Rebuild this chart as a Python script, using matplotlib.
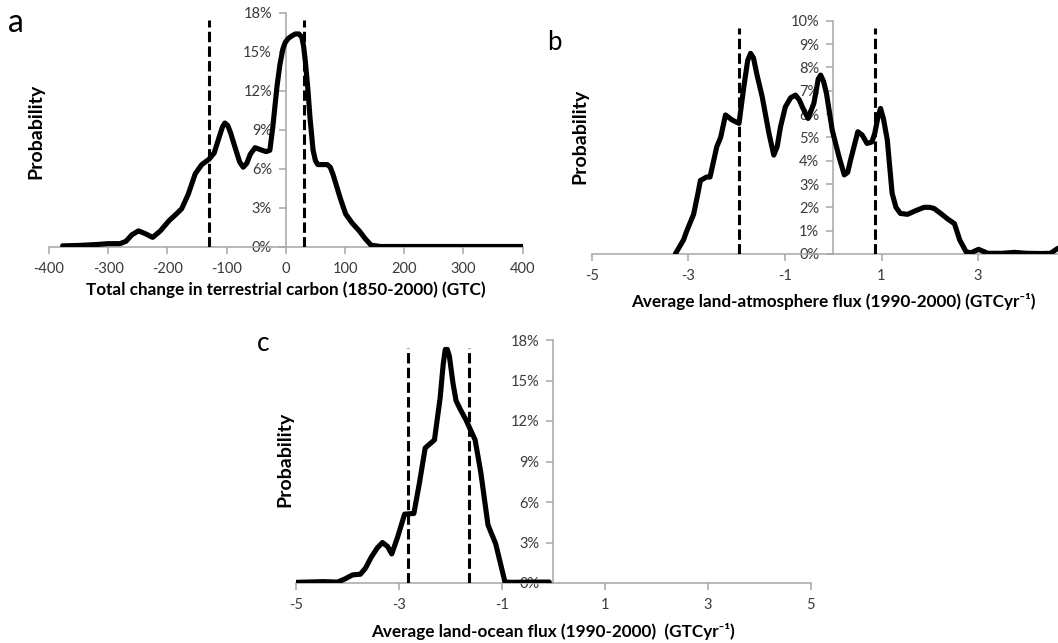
import matplotlib
matplotlib.use("Agg")
import matplotlib.pyplot as plt
from matplotlib.ticker import FixedLocator, FixedFormatter

plt.rcParams['font.family'] = ['Lato', 'DejaVu Sans']
plt.rcParams['axes.unicode_minus'] = False

# ---------------- data ----------------
# Panel a: total change in terrestrial carbon (GTC) vs probability (%)
a_x = [-377, -350, -320, -300, -280, -270, -260, -249, -238, -225, -212, -197, -185,
       -176, -165, -153, -142, -130, -121, -112, -107, -103, -98, -93, -87, -78, -72, -66,
       -60, -52, -40, -33, -27, -22, -15, -10, -5, -1, 4, 10, 16, 22, 27, 30, 33, 37, 41,
       46, 50, 54, 62, 70, 75, 80, 86, 92, 101, 112, 124, 134, 144, 160, 250, 400]
a_y = [0.05, 0.08, 0.15, 0.22, 0.22, 0.4, 0.9, 1.2, 1.0, 0.7, 1.2, 2.0, 2.5,
       2.9, 4.0, 5.6, 6.3, 6.7, 7.2, 8.5, 9.2, 9.5, 9.3, 8.7, 7.8, 6.5, 6.1, 6.4,
       7.1, 7.6, 7.4, 7.3, 7.4, 9.2, 12.3, 14.0, 15.2, 15.7, 16.0, 16.2, 16.35, 16.35, 16.1, 15.4, 14.2, 12.2, 9.8,
       7.4, 6.6, 6.3, 6.3, 6.3, 6.1, 5.5, 4.6, 3.7, 2.5, 1.8, 1.2, 0.6, 0.1, 0.0, 0.0, 0.0]
a_dashed = [-130, 30]
a_dash_top = 17.4
a_xticks = [-400, -300, -200, -100, 0, 100, 200, 300, 400]
a_xticklabels = ['-400', '-300', '-200', '-100', '0', '100', '200', '300', '400']
a_yticks = [0, 3, 6, 9, 12, 15, 18]
a_yticklabels = ['0%', '3%', '6%', '9%', '12%', '15%', '18%']

# Panel b: average land-atmosphere flux (GTC/yr) vs probability (%)
b_x = [-3.27, -3.10, -3.03, -2.89, -2.80, -2.75, -2.62, -2.55, -2.41, -2.33, -2.23, -2.09, -1.95,
       -1.85, -1.77, -1.71, -1.65, -1.58, -1.47, -1.33, -1.23, -1.16, -1.09, -0.99, -0.88, -0.78, -0.70,
       -0.64, -0.52, -0.40, -0.31, -0.26, -0.20, -0.14, -0.02, 0.12, 0.23, 0.30, 0.36, 0.51, 0.60,
       0.70, 0.80, 0.86, 0.93, 0.98, 1.04, 1.12, 1.22, 1.30, 1.39, 1.54, 1.70, 1.88, 2.00, 2.09,
       2.25, 2.37, 2.51, 2.62, 2.75, 2.85, 3.01, 3.20, 3.50, 3.75, 4.0, 4.3, 4.50, 4.62, 4.75]
b_y = [0.0, 0.6, 1.0, 1.7, 2.6, 3.15, 3.3, 3.3, 4.6, 5.0, 5.96, 5.74, 5.6,
       7.17, 8.3, 8.6, 8.4, 7.7, 6.74, 5.17, 4.24, 4.6, 5.46, 6.31, 6.7, 6.81, 6.6,
       6.31, 5.81, 6.46, 7.5, 7.67, 7.4, 6.89, 5.31, 4.17, 3.39, 3.5, 4.03, 5.24, 5.1,
       4.74, 4.8, 5.17, 5.9, 6.24, 5.8, 4.89, 2.6, 2.0, 1.74, 1.7, 1.85, 2.0, 2.0, 1.95,
       1.7, 1.5, 1.3, 0.6, 0.1, 0.05, 0.2, 0.03, 0.03, 0.07, 0.03, 0.02, 0.03, 0.2, 0.35]
b_dashed = [-1.94, 0.865]
b_dash_top = 9.67
b_xticks = [-5, -3, -1, 1, 3]
b_xticklabels = ['-5', '-3', '-1', '1', '3']
b_yticks = [0, 1, 2, 3, 4, 5, 6, 7, 8, 9, 10]
b_yticklabels = ['0%', '1%', '2%', '3%', '4%', '5%', '6%', '7%', '8%', '9%', '10%']

# Panel c: average land-ocean flux (GTC/yr) vs probability (%)
c_x = [-5.0, -4.47, -4.19, -4.05, -3.90, -3.75, -3.65, -3.54, -3.42, -3.32, -3.22, -3.14,
       -3.03, -2.89, -2.71, -2.60, -2.49, -2.31, -2.20, -2.14, -2.10, -2.06, -2.02, -1.95, -1.89,
       -1.80, -1.70, -1.52, -1.41, -1.27, -1.12, -0.94, -0.80, -0.40, -0.08]
c_y = [0.05, 0.1, 0.07, 0.3, 0.6, 0.65, 1.1, 1.9, 2.6, 3.0, 2.7, 2.15,
       3.35, 5.1, 5.15, 7.45, 10.0, 10.6, 13.7, 16.2, 17.3, 17.3, 16.8, 14.8, 13.5,
       12.8, 12.1, 10.6, 8.2, 4.3, 2.9, 0.07, 0.05, 0.07, 0.07]
c_dashed = [-2.82, -1.63]
c_dash_top = 17.4
c_xticks = [-5, -3, -1, 1, 3, 5]
c_xticklabels = ['-5', '-3', '-1', '1', '3', '5']
c_yticks = [0, 3, 6, 9, 12, 15, 18]
c_yticklabels = ['0%', '3%', '6%', '9%', '12%', '15%', '18%']

# ---------------- drawing ----------------
W, H = 1058, 643
fig = plt.figure(figsize=(W / 100, H / 100), dpi=100)

AXIS_GRAY = '#A6A6A6'
TICK_TEXT = '#3A3A3A'


def make_panel(rect, x, y, dashed, dash_top, xticks, xtl, yticks, ytl, xlim, ylim):
    ax = fig.add_axes(rect)
    ax.set_xlim(*xlim)
    ax.set_ylim(*ylim)
    for s in ['top', 'right']:
        ax.spines[s].set_visible(False)
    ax.spines['left'].set_position(('data', 0))
    for s in ['left', 'bottom']:
        ax.spines[s].set_color(AXIS_GRAY)
        ax.spines[s].set_linewidth(1.1)
    ax.xaxis.set_major_locator(FixedLocator(xticks))
    ax.xaxis.set_major_formatter(FixedFormatter(xtl))
    ax.yaxis.set_major_locator(FixedLocator(yticks))
    ax.yaxis.set_major_formatter(FixedFormatter(ytl))
    ax.tick_params(axis='both', direction='out', length=5, width=1.1,
                   color=AXIS_GRAY, labelcolor=TICK_TEXT, labelsize=10.5)
    ax.tick_params(axis='x', pad=6)
    ax.tick_params(axis='y', pad=5)
    ax.patch.set_alpha(0)
    ax.vlines(dashed, 0, dash_top, colors='black', linewidth=2.2,
              linestyles=(0, (3.4, 1.4)), zorder=3)
    ax.plot(x, y, color='black', linewidth=3.7, solid_joinstyle='round',
            solid_capstyle='round', zorder=4)
    return ax


def fr(px_left, px_right, px_top, px_bottom):
    return [px_left / W, 1 - px_bottom / H, (px_right - px_left) / W, (px_bottom - px_top) / H]


# panel a
make_panel(fr(49, 522.7, 12.5, 246.5), a_x, a_y, a_dashed, a_dash_top,
           a_xticks, a_xticklabels, a_yticks, a_yticklabels, (-400, 400), (0, 18))
# panel b (right part cut off by the figure edge, as in the source)
make_panel(fr(591.7, 1074.7, 20.7, 254), b_x, b_y, b_dashed, b_dash_top,
           b_xticks, b_xticklabels, b_yticks, b_yticklabels, (-5, 5), (0, 10))
# panel c
make_panel(fr(296, 810.7, 340, 583), c_x, c_y, c_dashed, c_dash_top,
           c_xticks, c_xticklabels, c_yticks, c_yticklabels, (-5, 5), (0, 18))

LBL = 12.3
PLBL = 14
# panel letters
fig.text(8 / W, 1 - 32 / H, 'a', fontsize=23, color='black', ha='left', va='baseline')
fig.text(547 / W, 1 - 50 / H, 'b', fontsize=18.5, color='black', ha='left', va='baseline')
fig.text(257 / W, 1 - 351 / H, 'c', fontsize=19, color='black', ha='left', va='baseline')

# y labels
fig.text(36 / W, 1 - 131.5 / H, 'Probability', rotation=90, fontsize=PLBL,
         fontweight='bold', ha='center', va='center')
fig.text(579.5 / W, 1 - 136.5 / H, 'Probability', rotation=90, fontsize=PLBL,
         fontweight='bold', ha='center', va='center')
fig.text(284.5 / W, 1 - 459 / H, 'Probability', rotation=90, fontsize=PLBL,
         fontweight='bold', ha='center', va='center')

# x labels
fig.text(286 / W, 1 - 290 / H, 'Total change in terrestrial carbon (1850-2000) (GTC)',
         fontsize=LBL, fontweight='bold', ha='center', va='center')
fig.text(833 / W, 1 - 302 / H,
         'Average land-atmosphere flux (1990-2000) (GTCyr\u207b\u00b9)',
         fontsize=LBL, fontweight='bold', ha='center', va='center')
fig.text(553 / W, 1 - 631 / H,
         'Average land-ocean flux (1990-2000)  (GTCyr\u207b\u00b9)',
         fontsize=LBL, fontweight='bold', ha='center', va='center')

fig.savefig('out.png', dpi=100, facecolor='white')
